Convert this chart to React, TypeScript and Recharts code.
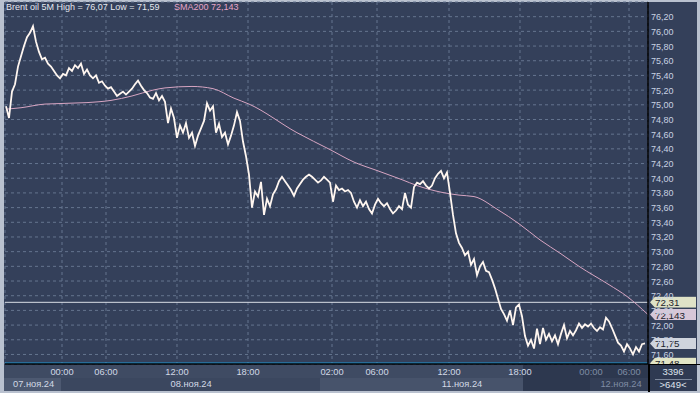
import React from 'react'
import { ComposedChart, Line, XAxis, YAxis, CartesianGrid, ReferenceLine } from 'recharts'

// цены закрытия, одна точка на ~3 бара M5
const price = [
  74.98, 74.82, 75.18, 75.28, 75.52, 75.66, 75.80, 75.92, 75.98, 76.07,
  75.86, 75.72, 75.62, 75.64, 75.56, 75.52, 75.46, 75.40, 75.36, 75.42,
  75.40, 75.50, 75.46, 75.54, 75.50, 75.56, 75.42, 75.48, 75.40, 75.36,
  75.40, 75.30, 75.32, 75.26, 75.22, 75.24, 75.18, 75.12, 75.15, 75.18,
  75.14, 75.18, 75.22, 75.28, 75.33, 75.26, 75.20, 75.16, 75.10, 75.08,
  75.16, 75.06, 75.12, 75.04, 74.75, 74.95, 74.82, 74.55, 74.72, 74.62,
  74.75, 74.55, 74.62, 74.44, 74.58, 74.68, 74.78, 75.02, 74.92, 74.98,
  74.62, 74.74, 74.56, 74.62, 74.46, 74.58, 74.72, 74.90, 74.78, 74.50,
  74.30, 74.05, 73.60, 73.82, 73.75, 73.95, 73.50, 73.72, 73.62, 73.78,
  73.85, 73.96, 74.02, 73.96, 73.90, 73.84, 73.76, 73.86, 73.92, 73.98,
  74.02, 74.05, 74.02, 73.98, 73.94, 73.97, 74.02, 73.98, 73.94, 73.68,
  73.90, 73.84, 73.86, 73.82, 73.84, 73.80, 73.68, 73.60, 73.70, 73.62,
  73.68, 73.58, 73.52, 73.64, 73.72, 73.66, 73.62, 73.66, 73.58, 73.52,
  73.56, 73.62, 73.58, 73.80, 73.64, 73.60, 73.88, 73.94, 73.92, 73.96,
  73.90, 73.86, 73.90, 74.00, 74.06, 74.10, 74.00, 74.08, 73.80, 73.50,
  73.25, 73.12, 73.05, 72.95, 73.00, 72.82, 72.90, 72.68, 72.80, 72.86,
  72.74, 72.72, 72.62, 72.50, 72.36, 72.22, 72.15, 72.06, 72.20, 72.00,
  72.24, 72.28, 72.12, 71.85, 71.72, 71.80, 71.68, 71.95, 71.74, 71.96,
  71.80, 71.88, 71.78, 71.86, 71.74, 71.88, 72.00, 71.82, 71.92, 71.86,
  71.93, 72.02, 71.96, 72.01, 71.98, 72.02, 71.96, 71.92, 71.97, 71.94,
  72.10, 72.05, 71.96, 71.86, 71.76, 71.72, 71.64, 71.74, 71.68, 71.60,
  71.70, 71.64, 71.74, 71.75,
]

const smaBar = [0, 5, 13, 27, 35, 42, 49, 53, 62, 69, 76, 81, 97, 108, 116, 124, 132, 137, 145, 151, 156, 164, 171, 178, 185, 191, 201, 207, 214]
const smaValue = [74.94, 74.96, 75.01, 75.03, 75.06, 75.12, 75.20, 75.23, 75.25, 75.22, 75.09, 75.01, 74.62, 74.39, 74.22, 74.10, 73.98, 73.90, 73.81, 73.77, 73.75, 73.57, 73.38, 73.16, 72.97, 72.80, 72.55, 72.39, 72.143]

const timeTickBar = [18.67, 33.33, 57, 80.67, 108.67, 123.67, 147.67, 171.33, 195, 207.67]
const timeTickLabel = ['00:00', '06:00', '12:00', '18:00', '02:00', '06:00', '12:00', '18:00', '00:00', '06:00']
const dateTickBar = [9.2, 61.7, 152, 205]
const dateTickLabel = ['07.ноя.24', '08.ноя.24', '11.ноя.24', '12.ноя.24']

const priceTicks = [
  71.6, 71.8, 72.0, 72.2, 72.4, 72.6, 72.8, 73.0, 73.2, 73.4, 73.6, 73.8,
  74.0, 74.2, 74.4, 74.6, 74.8, 75.0, 75.2, 75.4, 75.6, 75.8, 76.0, 76.2,
]

const levelPrice = 72.31
const lowLinePrice = 71.48
const lastPrice = 71.75
const smaLast = 72.143
const dayHigh = '76,07'
const dayLow = '71,59'
const barsTotal = 3396
const barsVisible = 649

const FONT = "'Liberation Sans', Arial, sans-serif"
const BG = '#34405a'

const priceData = price.map((v, i) => ({ bar: i, price: v }))
const smaData = smaBar.map((b, k) => ({ bar: b, sma: smaValue[k] }))

const fmt = (v: number, d = 2) => v.toFixed(d).replace('.', ',')

const TimeTick = (props: any) => {
  const { x, y, index, payload } = props
  const dim = payload.value > 172
  return (
    <text x={x} y={y + 11} textAnchor="middle" fontSize={9.3} fontFamily={FONT} fill={dim ? '#7f8ca4' : '#d2d9e6'}>
      {timeTickLabel[index]}
    </text>
  )
}

const DateTick = (props: any) => {
  const { x, y, index, payload } = props
  const dim = payload.value > 172
  return (
    <text x={x} y={y + 10} textAnchor="middle" fontSize={9.3} fontFamily={FONT} fill={dim ? '#7f8ca4' : '#d2d9e6'}>
      {dateTickLabel[index]}
    </text>
  )
}

const PriceTick = (props: any) => {
  const { x, y, payload } = props
  return (
    <text x={x + 3} y={y + 3.5} fontSize={9} fontFamily={FONT} fill="#c8d2e2">
      {fmt(payload.value)}
    </text>
  )
}

const tag = (text: string, bg: string, cut = false) => (props: any) => {
  const vb = props.viewBox
  const x = vb.x + vb.width + 2
  const y = vb.y
  const bottom = cut ? y + 0.7 : y + 5.5
  const id = 'clip' + text.replace(',', '')
  return (
    <g>
      <clipPath id={id}>
        <rect x={x - 1} y={y - 6} width={50} height={bottom - y + 6} />
      </clipPath>
      <g clipPath={`url(#${id})`}>
        <path d={`M${x} ${y} L${x + 5} ${y - 5.5} H${x + 46} V${y + 5.5} H${x + 5} Z`} fill={bg} />
        <text x={x + 5} y={y + 4} fontSize={9.8} fontFamily={FONT} fill="#1c1e2c">{text}</text>
      </g>
    </g>
  )
}

export default function App() {
  return (
    <div style={{ position: 'fixed', left: 0, top: 0, width: 700, height: 393, background: '#b9c1cf', fontFamily: FONT }}>
      <div style={{ position: 'absolute', left: 4, top: 2, width: 693, height: 389, background: BG }} />
      {/* полоса времени и дат */}
      <div style={{ position: 'absolute', left: 4, top: 365, width: 644, height: 26, background: '#3f4b63' }} />
      <div style={{ position: 'absolute', left: 61, top: 378, width: 259, height: 13, background: '#3b475f' }} />
      <div style={{ position: 'absolute', left: 4, top: 378, width: 57, height: 13, background: '#4d5971' }} />
      <div style={{ position: 'absolute', left: 320, top: 378, width: 203, height: 13, background: '#47536b' }} />
      <div style={{ position: 'absolute', left: 523, top: 365, width: 125, height: 26, background: '#2d384f' }} />
      <div style={{ position: 'absolute', left: 590, top: 378, width: 58, height: 13, background: '#333e56' }} />
      <div style={{ position: 'absolute', left: 648, top: 365, width: 49, height: 26, background: '#2f3a52' }} />

      <div style={{ position: 'absolute', left: 0, top: 0 }}>
        <ComposedChart width={700} height={393} data={priceData} margin={{ top: 2, right: 0, left: 5, bottom: 3 }}>
          <CartesianGrid stroke="#65748f" strokeDasharray="3 3" />
          <XAxis
            dataKey="bar"
            type="number"
            domain={[-0.333, 214]}
            ticks={timeTickBar}
            interval={0}
            height={13}
            tickSize={0}
            tickMargin={0}
            tick={<TimeTick />}
            axisLine={{ stroke: '#000', strokeWidth: 1.5 }}
            allowDataOverflow
          />
          <XAxis
            xAxisId="date"
            dataKey="bar"
            type="number"
            domain={[-0.333, 214]}
            ticks={dateTickBar}
            interval={0}
            height={13}
            tickSize={0}
            tickMargin={0}
            tick={<DateTick />}
            axisLine={false}
            allowDataOverflow
          />
          <YAxis
            orientation="right"
            width={52}
            domain={[71.47, 76.4]}
            ticks={priceTicks}
            interval={0}
            tickSize={0}
            tickMargin={0}
            tick={<PriceTick />}
            axisLine={{ stroke: '#000', strokeWidth: 1.5 }}
            allowDataOverflow
          />
          <ReferenceLine y={levelPrice} stroke="#d9dde6" strokeWidth={1} />
          <ReferenceLine y={lowLinePrice} stroke="#1d97d6" strokeWidth={1.6} />
          <Line data={smaData} dataKey="sma" type="monotone" stroke="#d7a5c2" strokeWidth={1} dot={false} isAnimationActive={false} />
          <Line dataKey="price" type="linear" stroke="#fff6f0" strokeWidth={1.8} dot={false} isAnimationActive={false} />
          <ReferenceLine y={levelPrice} stroke="none" label={tag(fmt(levelPrice), '#dfe2c7')} />
          <ReferenceLine y={smaLast} stroke="none" label={tag(fmt(smaLast, 3), '#d7c7d8')} />
          <ReferenceLine y={lastPrice} stroke="none" label={tag(fmt(lastPrice), '#cfd4dd')} />
          <ReferenceLine y={lowLinePrice} stroke="none" label={tag(fmt(lowLinePrice), '#e2e5c6', true)} />
        </ComposedChart>
      </div>

      <div style={{ position: 'absolute', left: 648, top: 364, width: 1.5, height: 28, background: '#000' }} />
      <div style={{ position: 'absolute', left: 648, top: 363.5, width: 52, height: 1.5, background: '#000' }} />

      <div style={{ position: 'absolute', left: 6, top: 2, fontSize: 9, color: '#e4e8f0', whiteSpace: 'pre' }}>
        {`Brent oil 5M High = ${dayHigh} Low = ${dayLow}`}
      </div>
      <div style={{ position: 'absolute', left: 174, top: 2, fontSize: 9, color: '#e6a4c6', whiteSpace: 'pre' }}>
        {`SMA200 ${fmt(smaLast, 3)}`}
      </div>

      <div style={{ position: 'absolute', left: 650, top: 366, width: 46, textAlign: 'center', fontSize: 9.5, color: '#dfe4ee' }}>
        {barsTotal}
      </div>
      <div style={{ position: 'absolute', left: 655, top: 378.5, width: 37, height: 1, background: '#7d889c' }} />
      <div style={{ position: 'absolute', left: 650, top: 379, width: 46, textAlign: 'center', fontSize: 9.5, color: '#dfe4ee' }}>
        {`>${barsVisible}<`}
      </div>
    </div>
  )
}
